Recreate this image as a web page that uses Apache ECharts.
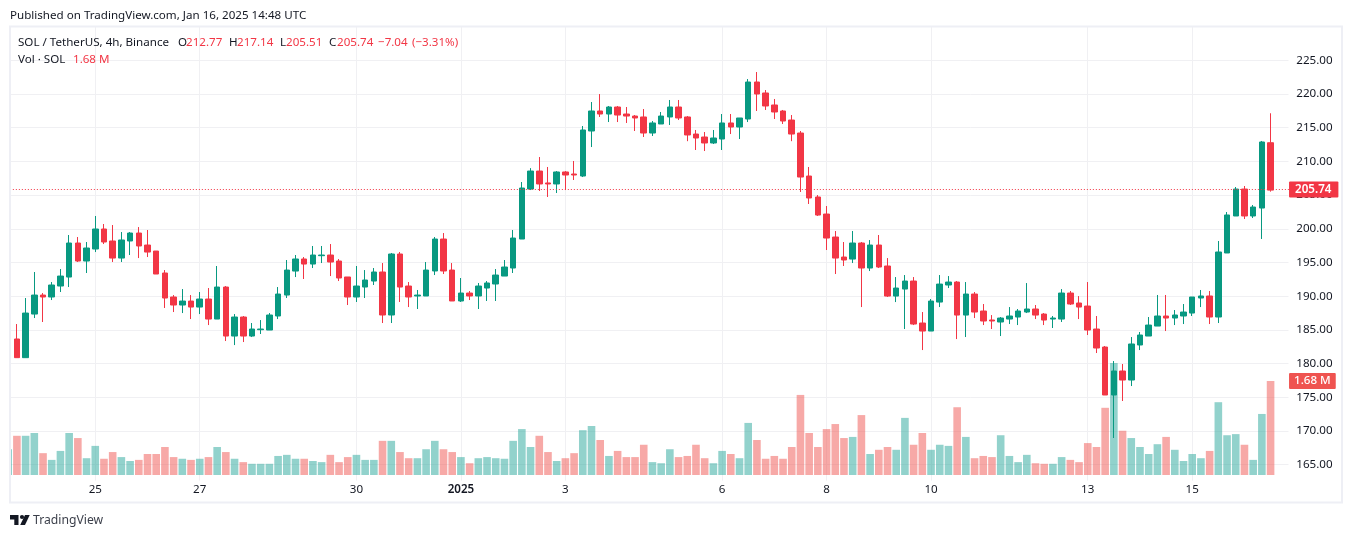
<!DOCTYPE html>
<html>
<head>
<meta charset="utf-8">
<title>SOL / TetherUS</title>
<script src="https://cdn.jsdelivr.net/npm/echarts@6/dist/echarts.min.js"></script>
<style>
  html, body { margin: 0; padding: 0; background: #fff; }
  #chart { width: 1352px; height: 538px; }
</style>
</head>
<body>
<div id="chart"></div>
<script>
// 4h candles, first one is clipped by the left edge of the pane
const opens = [182.16,
  183.65,180.88,187.35,190.17,189.88,191.51,192.84,197.89,195.22,
  197.0,199.97,198.19,195.66,198.19,199.37,197.59,196.70,193.44,189.88,
  188.69,189.28,188.39,189.58,186.61,191.36,184.09,186.91,184.09,185.03,
  184.98,187.06,190.17,193.73,195.52,194.77,196.01,196.11,195.22,192.85,
  189.88,191.36,192.25,193.59,187.21,196.26,191.51,190.03,190.03,193.74,
  198.48,193.88,189.29,190.47,190.03,191.21,191.81,192.99,194.18,198.48,
  205.90,208.57,206.80,206.65,208.43,208.13,207.83,214.51,217.48,217.03,
  218.07,217.03,216.73,216.59,214.21,215.55,216.59,218.07,216.59,214.06,
  213.62,212.73,213.32,215.70,215.10,216.29,221.78,220.15,218.37,217.48,
  216.14,214.21,207.83,204.72,202.19,198.78,195.81,195.51,197.89,194.18,
  197.59,194.48,190.02,191.06,192.25,186.02,184.83,189.13,191.66,192.10,
  187.2,190.32,187.80,186.47,186.17,186.61,186.91,187.65,188.10,187.35,
  186.61,186.61,190.47,188.99,188.54,185.13,182.46,175.34,178.90,177.56,
  182.76,184.09,185.57,187.06,186.76,187.06,187.50,189.73,190.03,186.91,
  196.41,201.90,205.90,201.90,203.08,212.77];
const closes = [183.65,
  180.88,187.50,190.17,189.88,191.66,192.99,197.89,195.22,197.15,
  199.97,198.04,195.66,198.34,199.37,197.45,196.55,193.29,189.73,188.69,
  189.28,188.39,189.58,186.61,191.36,184.09,186.91,184.09,185.13,185.13,
  187.21,190.32,193.88,195.52,194.77,196.11,196.11,195.07,192.70,189.88,
  191.51,192.40,193.59,187.21,196.26,191.36,189.88,190.17,193.88,198.48,
  193.74,189.29,190.47,190.03,191.51,191.96,193.14,194.33,198.63,206.05,
  208.57,206.65,206.65,208.43,207.98,207.98,214.66,217.48,217.03,218.07,
  216.88,216.73,216.44,214.21,215.70,216.73,218.07,216.44,213.92,213.47,
  212.73,213.47,215.70,215.10,216.44,221.78,220.0,218.22,217.33,215.99,
  214.06,207.68,204.57,202.04,198.63,195.66,195.37,197.89,194.18,197.59,
  194.33,190.02,191.21,192.25,185.87,184.83,189.28,191.80,192.10,187.2,
  190.32,187.65,186.32,186.32,186.76,187.06,187.80,188.10,187.20,186.46,
  186.76,190.47,188.84,188.39,184.98,182.31,175.34,178.90,177.56,182.91,
  184.24,185.72,187.06,186.76,187.21,187.65,189.88,190.03,186.91,196.56,
  202.05,205.90,201.90,203.23,212.88,205.74];
const highs = [183.65,
  185.87,189.73,193.59,190.47,192.10,194.03,199.08,198.78,198.04,
  201.90,200.71,200.56,199.52,199.52,200.26,199.82,196.70,193.88,190.17,
  191.06,190.17,190.62,191.21,194.48,191.51,187.35,187.06,186.02,186.46,
  187.50,191.36,195.37,196.11,195.81,197.45,197.45,197.74,195.52,192.85,
  194.48,193.88,194.18,194.92,196.41,196.56,192.10,190.92,195.07,198.78,
  199.37,194.92,192.70,190.77,191.96,192.25,194.03,195.37,199.82,206.94,
  209.0,210.65,209.17,208.57,208.57,210.06,215.25,218.81,219.99,218.22,
  218.22,218.07,216.88,217.77,215.99,217.33,219.11,219.11,216.73,214.66,
  214.36,214.66,217.03,217.03,216.44,222.22,223.26,220.59,219.26,217.63,
  216.88,214.51,209.17,205.01,203.38,199.67,198.04,199.67,198.04,198.33,
  199.08,195.66,192.84,193.14,192.84,187.65,189.58,193.14,192.99,192.25,
  192.10,190.62,188.84,187.2,186.91,188.39,188.10,191.95,188.69,187.50,
  187.06,191.06,190.77,190.02,192.10,187.06,182.61,180.38,179.94,183.94,
  184.69,186.91,190.18,190.18,187.95,188.84,189.88,190.92,190.77,198.19,
  202.49,206.20,206.35,203.53,213.03,217.14];
const lows = [182.16,
  180.88,180.88,186.76,186.17,189.43,190.62,191.36,195.07,193.44,
  196.55,197.74,195.07,195.07,196.11,195.66,195.81,193.29,188.25,187.65,
  187.50,186.61,187.35,185.72,186.61,183.35,182.75,183.20,183.94,184.39,
  184.98,186.61,189.73,192.84,192.55,194.18,194.92,192.99,192.25,188.69,
  189.14,189.73,191.66,186.02,186.02,189.14,188.39,188.10,190.03,193.14,
  193.29,189.29,189.14,189.43,188.10,189.29,189.29,192.99,193.44,198.48,
  205.75,205.61,204.72,205.31,205.75,207.24,207.68,212.13,216.59,215.84,
  215.84,215.70,214.51,213.62,213.77,215.55,215.40,216.14,213.0,211.69,
  211.54,212.58,211.69,214.06,213.32,215.84,217.48,217.63,216.29,215.55,
  213.0,205.46,203.68,201.90,196.85,193.29,194.48,194.92,188.39,193.73,
  194.18,189.88,189.13,185.13,185.72,182.01,184.83,188.39,191.21,183.64,
  183.94,186.76,185.72,185.13,184.09,185.87,185.72,187.50,186.61,185.72,
  185.28,186.17,188.69,186.61,184.24,181.57,175.34,168.96,174.45,176.67,
  182.01,184.09,185.57,184.83,185.72,185.87,187.06,188.39,185.87,186.02,
  196.41,201.90,201.45,201.60,198.49,205.51];
// volume in millions of SOL
const volumes = [.46,
  .70,.70,.75,.39,.27,.43,.75,.66,.30,
  .52,.29,.41,.32,.25,.27,.375,.375,.50,.32,
  .29,.27,.29,.32,.50,.41,.29,.23,.20,.20,
  .20,.34,.36,.29,.29,.25,.23,.36,.23,.32,
  .36,.27,.27,.61,.61,.41,.30,.30,.46,.61,
  .46,.41,.32,.21,.30,.32,.30,.29,.61,.82,
  .50,.70,.41,.25,.30,.39,.80,.875,.625,.34,
  .43,.32,.32,.54,.23,.21,.46,.32,.34,.54,
  .30,.21,.43,.375,.30,.93,.625,.29,.34,.29,
  .50,1.43,.75,.50,.82,.91,.66,.68,1.07,.375,
  .45,.50,.45,1.02,.54,.75,.45,.54,.52,1.21,
  .68,.30,.34,.32,.71,.34,.23,.36,.21,.20,
  .20,.32,.27,.23,.57,.50,1.20,2.0,.79,.66,
  .50,.375,.55,.68,.45,.25,.375,.30,.43,1.30,
  .71,.73,.54,.27,1.09,1.68];
const emptyBars = 2; // room right of the last candle

const tickIndex = [10, 22, 40, 52, 64, 82, 94, 106, 124, 136];
const tickLabels = ['25', '27', '30', '2025', '3', '6', '8', '10', '13', '15'];
const categories = [];
for (let i = 0; i < opens.length + emptyBars; i++) categories.push(String(i));

const lastPrice = 205.74;
const lastPriceLine = 205.82; // sits the dotted line on a whole pixel row
const lastVolume = 1.68;

const UP = '#089981', DOWN = '#f23645';
const UP_VOL = 'rgba(38,166,154,0.5)', DOWN_VOL = 'rgba(239,83,80,0.5)';
const TEXT = '#131722', GRID = '#f0f0f3', FRAME = '#eeeff5';
const FONT = 'Noto Sans';
const SIZE = 11.6;

const candleData = opens.map((o, i) => [o, closes[i], lows[i], highs[i]]);
const volumeData = volumes.map((v, i) => ({
  value: v,
  itemStyle: { color: closes[i] >= opens[i] ? UP_VOL : DOWN_VOL }
}));

const showTick = idx => tickIndex.indexOf(idx) >= 0;

// legend line pieces: text, x, y, color, size
const headerTexts = [
  ['Published on TradingView.com, Jan 16, 2025 14:48 UTC', 10, 16, TEXT, SIZE],
  ['SOL / TetherUS, 4h, Binance', 18, 43, TEXT, SIZE],
  ['O', 178, 43, TEXT, SIZE], ['212.77', 186, 43, DOWN, SIZE],
  ['H', 229, 43, TEXT, SIZE], ['217.14', 237, 43, DOWN, SIZE],
  ['L', 280, 43, TEXT, SIZE], ['205.51', 286, 43, DOWN, SIZE],
  ['C', 329, 43, TEXT, SIZE], ['205.74', 337, 43, DOWN, SIZE],
  ['\u22127.04', 378, 43, DOWN, SIZE], ['(\u22123.31%)', 412, 43, DOWN, SIZE],
  ['Vol \u00b7 SOL', 18, 60, TEXT, SIZE], ['1.68 M', 73, 60, DOWN, SIZE],
  ['TradingView', 33, 521, '#3b3f4a', 12.2]
];

const chart = echarts.init(document.getElementById('chart'), null, { renderer: 'canvas' });
chart.setOption({
  animation: false,
  backgroundColor: '#fff',
  textStyle: { fontFamily: FONT },
  grid: [
    { left: 3.85, top: 26.6, width: 1288.49, height: 471.8 },
    { left: 3.85, top: 27, width: 1288.49, height: 453.6 }
  ],
  xAxis: [
    {
      type: 'category', gridIndex: 0, data: categories,
      axisLine: { show: false }, axisTick: { show: false },
      axisLabel: { show: false }, splitLine: { show: false }
    },
    {
      type: 'category', gridIndex: 1, data: categories,
      axisLine: { show: false }, axisTick: { show: false },
      axisLabel: {
        interval: idx => showTick(idx),
        formatter: (v, idx) => {
          const label = tickLabels[tickIndex.indexOf(idx)];
          return label === '2025' ? '{year|2025}' : label;
        },
        color: TEXT, fontSize: SIZE, fontFamily: FONT, margin: 3,
        rich: { year: { fontWeight: 600, fontSize: SIZE, color: TEXT, fontFamily: FONT } }
      },
      splitLine: {
        show: true, alignWithLabel: true,
        interval: idx => showTick(idx),
        lineStyle: { color: GRID, width: 1 }
      }
    }
  ],
  yAxis: [
    {
      type: 'value', gridIndex: 0, position: 'right',
      min: 160, max: 230, interval: 5,
      axisLine: { show: false }, axisTick: { show: false },
      axisLabel: {
        color: TEXT, fontSize: SIZE, fontFamily: FONT, margin: 4,
        showMinLabel: false, showMaxLabel: false,
        formatter: v => v.toFixed(2)
      },
      splitLine: {
        show: true, showMinLine: false, showMaxLine: false,
        lineStyle: { color: GRID, width: 1 }
      }
    },
    {
      type: 'value', gridIndex: 1, position: 'left',
      min: -0.1, max: 8,
      axisLine: { show: false }, axisTick: { show: false },
      axisLabel: { show: false }, splitLine: { show: false }
    }
  ],
  series: [
    {
      name: 'Vol', type: 'bar', xAxisIndex: 1, yAxisIndex: 1, z: 3,
      barWidth: 7.6, data: volumeData,
      markLine: {
        silent: true, symbol: 'none', z: 20,
        lineStyle: { color: 'transparent', width: 1 },
        label: {
          show: true, position: 'end', distance: -3.3,
          formatter: lastVolume.toFixed(2) + ' M', color: '#fff', backgroundColor: '#ef5350',
          fontFamily: FONT, fontSize: SIZE, fontWeight: 500,
          padding: [2, 5, 2, 5], borderRadius: 1
        },
        data: [{ yAxis: lastVolume }]
      }
    },
    {
      name: 'SOL', type: 'candlestick', xAxisIndex: 0, yAxisIndex: 0, z: 5,
      barWidth: 6, data: candleData,
      itemStyle: {
        color: UP, color0: DOWN, borderColor: UP, borderColor0: DOWN, borderWidth: 1
      },
      markLine: {
        silent: true, symbol: 'none', z: 20,
        lineStyle: { color: DOWN, type: [1, 2], width: 1 },
        label: {
          show: true, position: 'end', distance: -3.3,
          formatter: lastPrice.toFixed(2), color: '#fff', backgroundColor: DOWN,
          fontFamily: FONT, fontSize: SIZE, fontWeight: 600,
          padding: [2, 7, 2, 6], borderRadius: 1
        },
        data: [{ yAxis: lastPriceLine }]
      }
    }
  ],
  graphic: [
    // hides what sticks out of the pane on both sides
    { type: 'rect', z: 200, shape: { x: 0, y: 20, width: 10, height: 470 }, style: { fill: '#fff' } },
    { type: 'rect', z: 1, shape: { x: 1288.5, y: 27, width: 5, height: 454 }, style: { fill: '#fff' } },
    {
      type: 'rect', z: 201, shape: { x: 10, y: 26.5, width: 1332, height: 476 },
      style: { fill: 'none', stroke: FRAME, lineWidth: 2 }
    },
    // TradingView mark
    { type: 'polygon', z: 201, shape: { points: [[10, 515], [18.5, 515], [18.5, 525], [14.3, 525], [14.3, 519.5], [10, 519.5]] }, style: { fill: TEXT } },
    { type: 'circle', z: 201, shape: { cx: 22, cy: 517, r: 2.1 }, style: { fill: TEXT } },
    { type: 'polygon', z: 201, shape: { points: [[25, 515], [29.7, 515], [25, 525], [20.2, 525]] }, style: { fill: TEXT } }
  ].concat(headerTexts.map(t => ({
    type: 'text', z: 201, x: t[1], y: t[2],
    style: { text: t[0], fill: t[3], font: t[4] + 'px "' + FONT + '"', textVerticalAlign: 'middle' }
  })))
});
</script>
</body>
</html>
